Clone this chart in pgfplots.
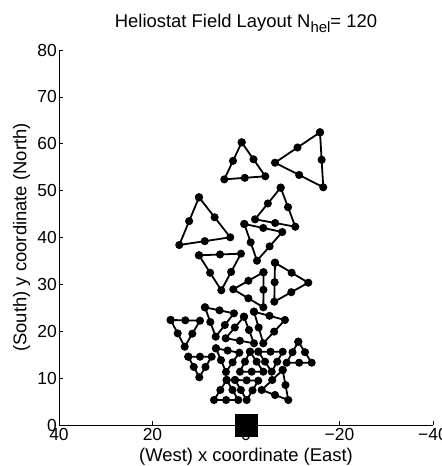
\documentclass[border=0pt]{standalone}
\usepackage{fontspec}
\setmainfont{Liberation Sans}
\usepackage{pgfplots}
\pgfplotsset{compat=1.18}

% one closed triangle of six heliostats: vertex, midpoint, vertex, ...
\pgfplotsset{heli/.style={black, line width=1.8bp, mark=*, mark size=3.1bp, mark options={solid}}}

\begin{document}
\begin{tikzpicture}
\useasboundingbox (-59bp,-41bp) rectangle (383bp,425bp);
\begin{axis}[
  at={(0,0)}, anchor=south west,
  scale only axis, width=374bp, height=375bp,
  xmin=-40, xmax=40, ymin=0, ymax=80,
  x dir=reverse,
  axis x line*=bottom, axis y line*=left,
  axis line style={black, line width=0.6bp},
  tick align=inside, major tick length=4bp,
  tick style={black, line width=0.6bp},
  xtick={40,20,0,-20,-40},
  xticklabels={40,20,0,−20,−40},
  ytick={0,10,...,80},
  yticklabels={0,10,20,30,40,50,60,70,80},
  font=\fontsize{18.5}{21}\selectfont,
  ticklabel style={font=\fontsize{17.5}{20}\selectfont},
  xticklabel style={inner sep=0bp, yshift=-3bp},
  yticklabel style={inner sep=0bp, xshift=-2bp},
  xlabel={(West) x coordinate (East)},
  ylabel={(South) y coordinate (North)},
  xlabel style={at={(axis description cs:0.5,-0.0973)}, anchor=base, inner sep=0bp},
  ylabel style={at={(axis description cs:-0.087,0.5)}, anchor=base, rotate=0, inner sep=0bp},
  every axis title shift=0pt,
  title={Heliostat Field Layout N\raisebox{-5bp}{\fontsize{15}{15}\selectfont hel}= 120},
  title style={at={(axis description cs:0.5,1.06)}, anchor=base, inner sep=0bp},
  clip=false,
]
% receiver tower
\addplot[only marks, mark=square*, mark size=11bp, black] coordinates {(0,0)};

\addplot[heli] coordinates {(0.92,60.3) (2.78,56.35) (4.64,52.4) (0.26,52.73) (-4.13,53.06) (-1.61,56.68) (0.92,60.3)};
\addplot[heli] coordinates {(-15.83,62.44) (-11.02,59.2) (-6.2,55.96) (-11.37,53.34) (-16.53,50.71) (-16.18,56.58) (-15.83,62.44)};
\addplot[heli] coordinates {(10.05,48.57) (12.16,43.49) (14.27,38.4) (8.82,39.22) (3.36,40.04) (6.71,44.31) (10.05,48.57)};
\addplot[heli] coordinates {(-7.42,50.63) (-4.68,47.26) (-1.93,43.88) (-6.24,43.09) (-10.55,42.3) (-8.99,46.47) (-7.42,50.63)};
\addplot[heli] coordinates {(0.36,42.88) (-3.7,42.03) (-7.76,41.17) (-5.06,38.11) (-2.35,35.05) (-1.0,38.97) (0.36,42.88)};
\addplot[heli] coordinates {(10.05,36.2) (5.56,36.38) (1.07,36.55) (3.18,32.65) (5.28,28.74) (7.67,32.47) (10.05,36.2)};
\addplot[heli] coordinates {(-3.74,32.58) (-0.51,30.77) (2.72,28.95) (-0.5,27.03) (-3.72,25.11) (-3.73,28.85) (-3.74,32.58)};
\addplot[heli] coordinates {(-6.2,34.62) (-9.77,32.49) (-13.33,30.36) (-9.69,28.33) (-6.05,26.3) (-6.13,30.46) (-6.2,34.62)};
\addplot[heli] coordinates {(16.11,22.4) (12.98,22.33) (9.84,22.25) (11.48,19.48) (13.11,16.7) (14.61,19.55) (16.11,22.4)};
\addplot[heli] coordinates {(8.77,25.1) (5.67,24.46) (2.57,23.82) (4.53,21.33) (6.48,18.84) (7.63,21.97) (8.77,25.1)};
\addplot[heli] coordinates {(0.43,23.1) (2.39,20.8) (4.34,18.5) (1.32,17.97) (-1.71,17.43) (-0.64,20.27) (0.43,23.1)};
\addplot[heli] coordinates {(-1.71,24.17) (-5.03,23.29) (-8.34,22.4) (-6.02,19.92) (-3.7,17.43) (-2.71,20.8) (-1.71,24.17)};
\addplot[heli] coordinates {(12.34,14.57) (9.84,14.57) (7.34,14.57) (8.67,12.38) (9.99,10.18) (11.17,12.38) (12.34,14.57)};
\addplot[heli] coordinates {(6.42,16.36) (3.93,15.89) (1.43,15.42) (2.86,13.37) (4.28,11.31) (5.35,13.84) (6.42,16.36)};
\addplot[heli] coordinates {(-0.86,15.64) (0.21,13.51) (1.28,11.37) (-1.21,11.37) (-3.7,11.37) (-2.28,13.51) (-0.86,15.64)};
\addplot[heli] coordinates {(-2.63,15.64) (-5.24,15.64) (-7.85,15.64) (-6.68,13.51) (-5.5,11.37) (-4.07,13.51) (-2.63,15.64)};
\addplot[heli] coordinates {(-11.19,17.77) (-9.95,15.53) (-8.7,13.29) (-11.38,13.29) (-14.05,13.29) (-12.62,15.53) (-11.19,17.77)};
\addplot[heli] coordinates {(4.13,9.6) (5.49,7.47) (6.84,5.33) (4.25,5.33) (1.65,5.33) (2.89,7.47) (4.13,9.6)};
\addplot[heli] coordinates {(2.35,9.6) (-0.14,9.53) (-2.63,9.45) (-1.39,7.39) (-0.15,5.33) (1.1,7.47) (2.35,9.6)};
\addplot[heli] coordinates {(-7.85,11.73) (-5.61,9.6) (-3.36,7.47) (-6.21,6.4) (-9.05,5.33) (-8.45,8.53) (-7.85,11.73)};
\end{axis}
\end{tikzpicture}
\end{document}
